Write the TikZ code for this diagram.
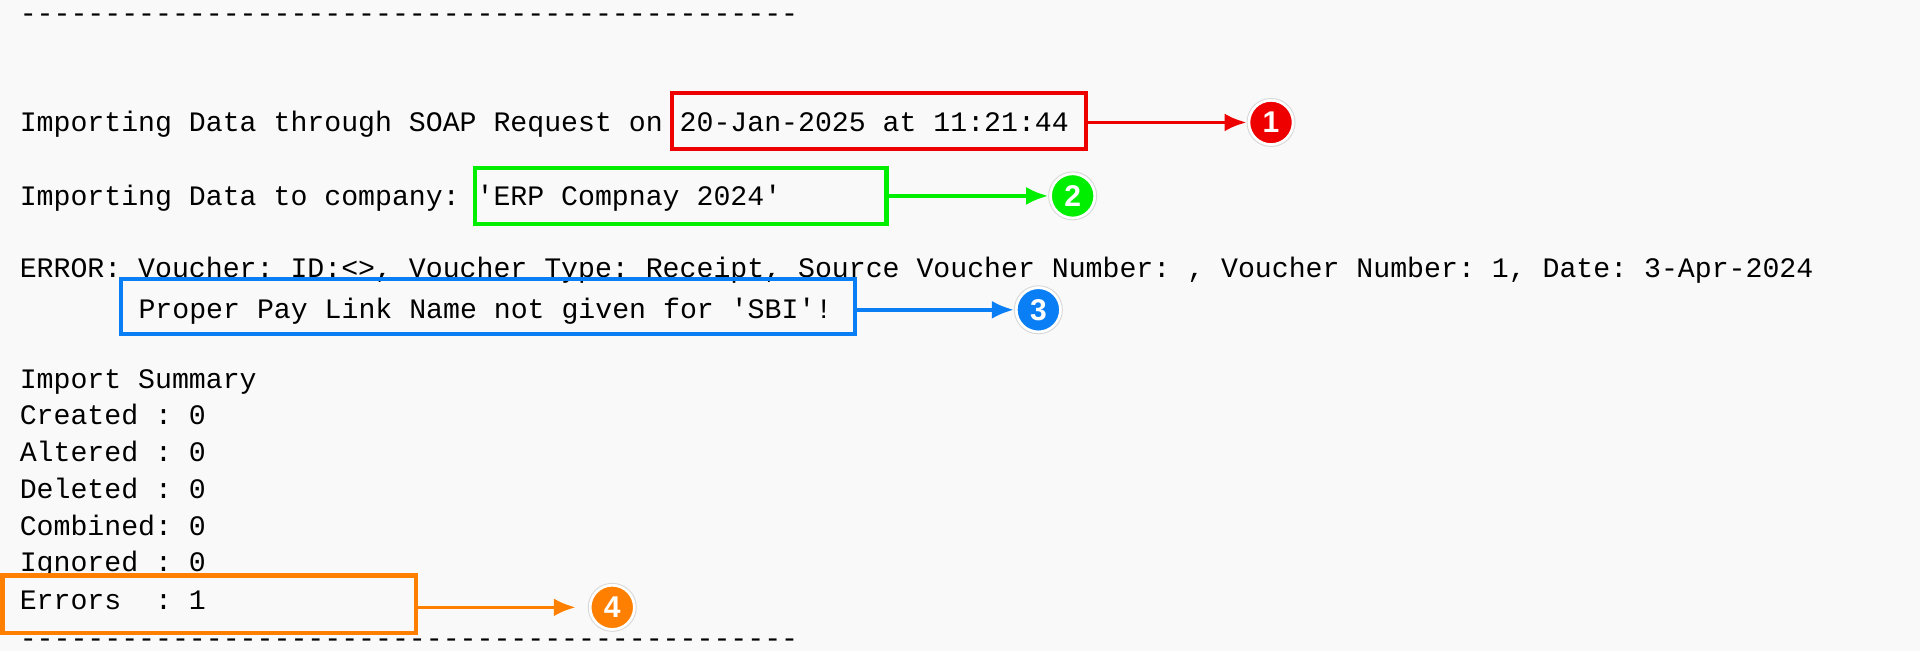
\documentclass[tikz,border=0pt]{standalone}
\usepackage{fontspec}
\setmonofont{Liberation Mono}
\setsansfont{Liberation Sans}
\usetikzlibrary{arrows.meta}
\definecolor{bg}{HTML}{F9F9F9}
\definecolor{cred}{HTML}{EE0000}
\definecolor{cgreen}{HTML}{00EE00}
\definecolor{cblue}{HTML}{0A7FF5}
\definecolor{corange}{HTML}{FF8000}
\begin{document}
\begin{tikzpicture}[x=1.2245pt,y=-1.2245pt,
  txt/.style={anchor=base west,inner sep=0pt,font=\ttfamily\fontsize{28.2}{34}\selectfont},
  hbox/.style={draw=#1,line width=4.2pt,inner sep=0pt},
  arr/.style={draw=#1,line width=3.6pt,-{Latex[length=22pt,width=18pt]}},
  num/.style={circle,fill=#1,draw=white,line width=2.5pt,minimum size=44pt,inner sep=0pt,text=white,font=\sffamily\bfseries\fontsize{30}{30}\selectfont},
  ring/.style={circle,draw=black!15,line width=1pt,minimum size=48pt,inner sep=0pt}]
\fill[bg] (0,0) rectangle (1568,532);
\useasboundingbox (0,0) rectangle (1568,532);
\node[txt] (d1) at (16,18) {----------------------------------------------};
\node[txt] (l1) at (16,107) {Importing Data through SOAP Request on 20-Jan-2025 at 11:21:44};
\node[txt] (l2) at (16,168) {Importing Data to company: 'ERP Compnay 2024'};
\node[txt] (l3) at (16,227) {ERROR: Voucher: ID:<>, Voucher Type: Receipt, Source Voucher Number: , Voucher Number: 1, Date: 3-Apr-2024};
\node[txt] (l4) at (113,260) {Proper Pay Link Name not given for 'SBI'!};
\node[txt] (s0) at (16,317) {Import Summary};
\node[txt] (s1) at (16,347) {Created : 0};
\node[txt] (s2) at (16,377) {Altered : 0};
\node[txt] (s3) at (16,407) {Deleted : 0};
\node[txt] (s4) at (16,437) {Combined: 0};
\node[txt] (s5) at (16,467) {Ignored : 0};
\node[txt] (s6) at (16,498) {Errors\ \ : 1};
\node[txt] (d2) at (16,529) {----------------------------------------------};
% boxes
\draw[hbox=cred] (549,76) rectangle (887,122);
\coordinate (b1) at (887,100);
\draw[hbox=cgreen] (388,137) rectangle (724,183);
\coordinate (b2) at (724,160);
\draw[hbox=cblue] (99,228) rectangle (698,273);
\coordinate (b3) at (698,253);
\draw[hbox=corange] (2,470) rectangle (340,517);
\coordinate (b4) at (340,496);
% circles
\node[ring] (r1) at (1038,100) {};
\node[num=cred] (n1) at (1038,100) {1};
\node[ring] (r2) at (876,160) {};
\node[num=cgreen] (n2) at (876,160) {2};
\node[ring] (r3) at (848,253) {};
\node[num=cblue] (n3) at (848,253) {3};
\node[ring] (r4) at (500,496) {};
\node[num=corange] (n4) at (500,496) {4};
\draw[arr=cred] (b1) -- (r1.west);
\draw[arr=cgreen] (b2) -- (r2.west);
\draw[arr=cblue] (b3) -- (r3.west);
\draw[arr=corange] (b4) -- ([xshift=-12pt]r4.west);
\end{tikzpicture}
\end{document}
